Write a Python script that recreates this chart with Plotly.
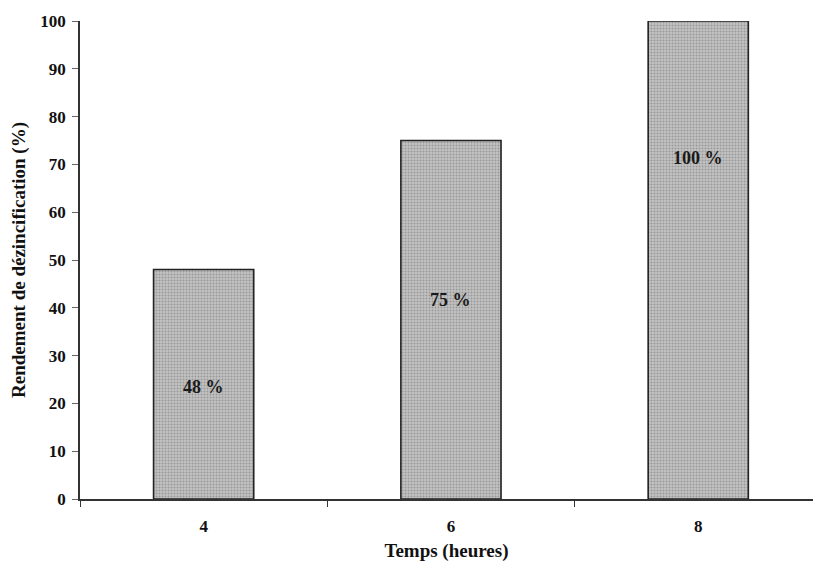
import plotly.graph_objects as go

categories = ["4", "6", "8"]
rendement = [48, 75, 100]
labels = ["48 %", "75 %", "100 %"]
label_y = [23.5, 41.6, 71.4]
y_ticks = [0, 10, 20, 30, 40, 50, 60, 70, 80, 90, 100]

FONT = "Liberation Serif"

fig = go.Figure()
fig.add_trace(go.Bar(
    x=categories,
    y=rendement,
    width=0.405,
    marker=dict(
        color="#b8b8b8",
        line=dict(color="#222222", width=1.6),
        pattern=dict(shape=".", fgcolor="#6e6e6e", bgcolor="#c2c2c2",
                     size=3, solidity=0.35, fillmode="overlay"),
    ),
    showlegend=False,
    hoverinfo="skip",
))

for i, (t, yy) in enumerate(zip(labels, label_y)):
    fig.add_annotation(x=i, y=yy, xref="x", yref="y", text=t,
                       showarrow=False,
                       font=dict(family=FONT, size=18, color="#1a1a1a", weight="bold"))

fig.update_layout(
    width=813, height=566,
    margin=dict(l=80, r=0, t=21, b=67),
    plot_bgcolor="white", paper_bgcolor="white",
    font=dict(family=FONT, size=14, color="#111111"),
    bargap=0.595,
)
fig.update_xaxes(
    type="category",
    range=[-0.5, 2.464],
    automargin=False,
    showline=True, linecolor="#333333", linewidth=1.5,
    ticks="outside", tickson="boundaries", ticklen=6, tickcolor="#333333",
    tickfont=dict(family=FONT, size=17, color="#111111", weight="bold"),
    ticklabelstandoff=11,
    showgrid=False, zeroline=False,
    title=dict(text="Temps (heures)", font=dict(family=FONT, size=19, weight="bold"), standoff=9),
)
fig.update_yaxes(
    range=[0, 100],
    tickvals=y_ticks,
    automargin=False,
    showline=True, linecolor="#333333", linewidth=1.5,
    ticks="outside", ticklen=6, tickcolor="#666666",
    tickfont=dict(family=FONT, size=17, color="#111111", weight="bold"),
    ticklabelstandoff=3,
    showgrid=False, zeroline=False,
    title=dict(text="Rendement de dézincification (%)", font=dict(family=FONT, size=19, weight="bold"), standoff=10),
)

fig.write_html("out.html", config={"displayModeBar": False},
               post_script="document.body.style.margin='0px';")
